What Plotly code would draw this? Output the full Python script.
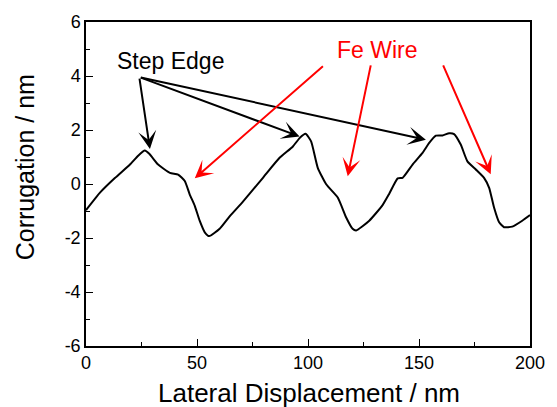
import plotly.graph_objects as go

# Line-profile across the surface: lateral position (nm) vs corrugation height (nm)
displacement_nm = [0, 6.3, 13.0, 19.8, 23.5, 26.5, 28.5, 32.5, 37.8, 41.5, 44.5, 46.7, 49.0,
                   51.2, 53.5, 55.5, 60.2, 64.7, 70.7, 79.7, 87.2, 93.2, 96.2, 98.9, 101.4,
                   104.4, 108.2, 113.4, 117.2, 120.1, 121.7, 127.6, 133.6, 136.6, 140.4,
                   142.6, 147.1, 151.6, 154.6, 157.6, 160.6, 163.6, 165.8, 168.8, 171.8,
                   175.6, 179.3, 181.6, 183.8, 186.1, 188.3, 192.0, 196.5, 200.0]
corrugation_nm = [-0.97, -0.32, 0.22, 0.72, 1.05, 1.24, 1.12, 0.72, 0.41, 0.35, 0.11, -0.38, -0.81,
                  -1.36, -1.79, -1.93, -1.66, -1.20, -0.65, 0.23, 0.97, 1.39, 1.70, 1.86, 1.58,
                  0.60, -0.01, -0.50, -1.24, -1.66, -1.72, -1.36, -0.78, -0.36, 0.21,
                  0.23, 0.72, 1.15, 1.52, 1.79, 1.80, 1.88, 1.85, 1.46, 0.84,
                  0.54, 0.23, -0.14, -0.87, -1.42, -1.60, -1.58, -1.36, -1.15]

x_ticks = [0, 50, 100, 150, 200]
y_ticks = [-6, -4, -2, 0, 2, 4, 6]

x_title = "Lateral Displacement / nm"
y_title = "Corrugation / nm"

# Arrow annotations: (tail x, tail y) -> (head x, head y)
step_edge_label = "Step Edge"
step_edge_label_pos = (38, 4.55)
step_edge_tail = (24, 3.96)
step_edge_heads = [(28.8, 1.30), (96.2, 1.76), (153.1, 1.64)]

fe_wire_label = "Fe Wire"
fe_wire_label_pos = (131.2, 4.95)
fe_wire_tails = [(107.4, 4.41), (128.4, 4.45), (160.6, 4.45)]
fe_wire_heads = [(49.0, 0.21), (117.9, 0.29), (182.3, 0.36)]

FONT = "Liberation Sans, Arial, sans-serif"

fig = go.Figure()
fig.add_trace(go.Scatter(
    x=displacement_nm, y=corrugation_nm, mode="lines",
    line=dict(color="black", width=2, shape="spline", smoothing=0.5),
    showlegend=False, hoverinfo="skip",
))

annotations = []
annotations.append(dict(x=step_edge_label_pos[0], y=step_edge_label_pos[1], text=step_edge_label,
                        showarrow=False, font=dict(family=FONT, size=23, color="black")))
for hx, hy in step_edge_heads:
    annotations.append(dict(x=hx, y=hy, ax=step_edge_tail[0], ay=step_edge_tail[1],
                            axref="x", ayref="y", text="", showarrow=True,
                            arrowhead=3, arrowsize=1.5, arrowwidth=2, arrowcolor="black"))
annotations.append(dict(x=fe_wire_label_pos[0], y=fe_wire_label_pos[1], text=fe_wire_label,
                        showarrow=False, font=dict(family=FONT, size=23, color="#ff0000")))
for (tx, ty), (hx, hy) in zip(fe_wire_tails, fe_wire_heads):
    annotations.append(dict(x=hx, y=hy, ax=tx, ay=ty,
                            axref="x", ayref="y", text="", showarrow=True,
                            arrowhead=3, arrowsize=1.5, arrowwidth=2, arrowcolor="#ff0000"))

# Axis titles placed as paper-anchored text
annotations.append(dict(xref="paper", yref="paper", x=0.503, y=-0.144, text=x_title,
                        showarrow=False, xanchor="center", yanchor="middle",
                        font=dict(family=FONT, size=26, color="black")))
annotations.append(dict(xref="paper", yref="paper", x=-0.137, y=0.552, text=y_title,
                        showarrow=False, xanchor="center", yanchor="middle", textangle=-90,
                        font=dict(family=FONT, size=25, color="black")))

axis_common = dict(
    showgrid=False, zeroline=False, showline=True, linecolor="black", linewidth=1.5,
    mirror=True, ticks="inside", ticklen=7, tickwidth=1.2, tickcolor="black",
    tickfont=dict(family=FONT, size=18, color="black"),
)

fig.update_layout(
    width=557, height=407,
    margin=dict(l=86, r=26, t=20, b=61),
    paper_bgcolor="white", plot_bgcolor="white",
    annotations=annotations,
    xaxis=dict(range=[0, 200], tickvals=x_ticks, ticktext=[str(v) for v in x_ticks],
               minor=dict(ticks="inside", ticklen=4, dtick=25, tickcolor="black", tickwidth=1.2),
               **axis_common),
    yaxis=dict(range=[-6, 6], tickvals=y_ticks, ticktext=[str(v) for v in y_ticks],
               minor=dict(ticks="inside", ticklen=4, dtick=1, tickcolor="black", tickwidth=1.2),
               **axis_common),
)

fig.write_html("out.html")
